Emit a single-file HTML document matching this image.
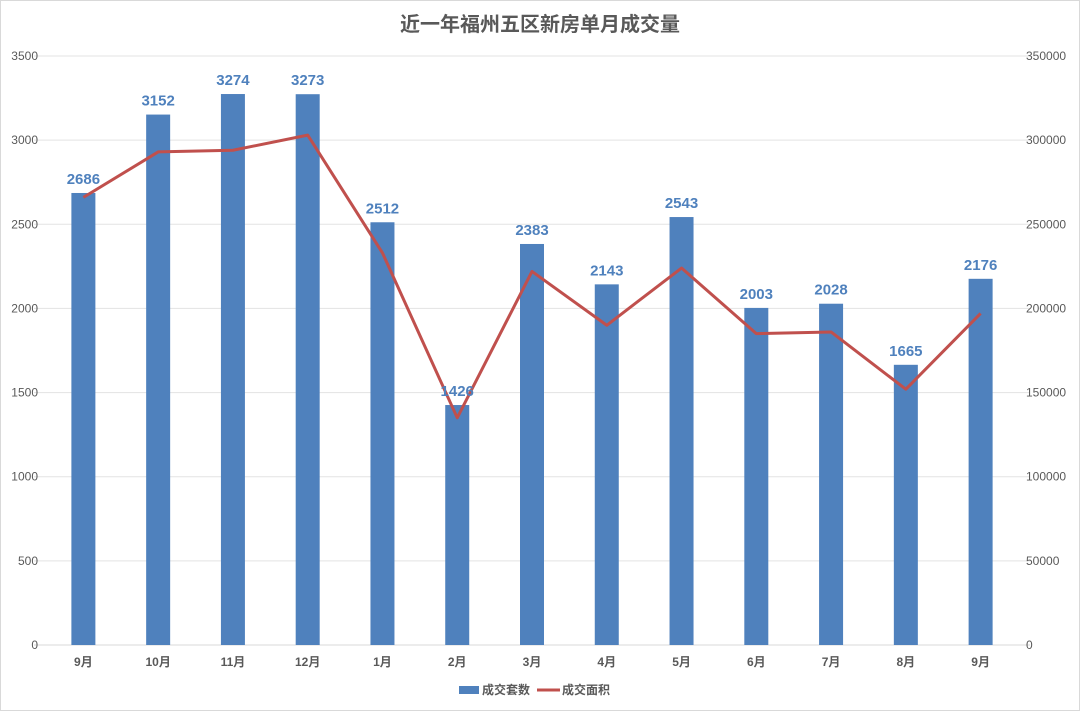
<!DOCTYPE html>
<html><head><meta charset="utf-8"><style>
body{margin:0;background:#fff}
svg{display:block;font-family:"Liberation Sans","Noto Sans CJK SC",sans-serif}
</style></head><body>
<svg id="c" width="1080" height="711">
<rect x="0.5" y="0.5" width="1079" height="710" fill="#fff" stroke="#d9d9d9"/>
<text x="540" y="31" text-anchor="middle" font-size="20" font-weight="bold" fill="#595959">近一年福州五区新房单月成交量</text>
<g id="grid"></g><g id="bars"></g><g id="line"></g><g id="labels"></g>
<g>
<rect x="459" y="686" width="20" height="8" fill="#4f81bd"/>
<text x="482" y="694" font-size="12" font-weight="bold" fill="#595959">成交套数</text>
<line x1="537" y1="690" x2="560" y2="690" stroke="#c0504d" stroke-width="3"/>
<text x="562" y="694" font-size="12" font-weight="bold" fill="#595959">成交面积</text>
</g>
</svg>
<script>
const categories=["9月","10月","11月","12月","1月","2月","3月","4月","5月","6月","7月","8月","9月"];
const counts=[2686,3152,3274,3273,2512,1426,2383,2143,2543,2003,2028,1665,2176];
const areas=[266000,293000,294000,303000,233000,135000,222000,190000,224000,185000,186000,152000,197000];
const leftTicks=[0,500,1000,1500,2000,2500,3000,3500];
const rightTicks=[0,50000,100000,150000,200000,250000,300000,350000];
const NS="http://www.w3.org/2000/svg";
const x0=46,x1=1018,yB=645,yT=56;
const step=(x1-x0)/categories.length;
const xc=i=>x0+step*(i+0.5);
const yL=v=>yB-(v/3500)*(yB-yT);
const yR=v=>yB-(v/350000)*(yB-yT);
function mk(tag,attrs,parent,text){const e=document.createElementNS(NS,tag);for(const k in attrs)e.setAttribute(k,attrs[k]);if(text!=null)e.textContent=text;parent.appendChild(e);return e;}
const g=document.getElementById('grid'),b=document.getElementById('bars'),l=document.getElementById('line'),lb=document.getElementById('labels');
leftTicks.forEach((t,i)=>{
 const ln=mk('line',{x1:34,x2:1030,y1:yL(t),y2:yL(t),stroke:i==0?'#d9d9d9':'#e3e3e3','stroke-width':1},g);
 
 
 const tx=mk('text',{x:38,y:yL(t)+4,'text-anchor':'end','font-size':12,fill:'#595959'},g,t);
 
 
});
rightTicks.forEach(t=>{
 const tx=mk('text',{x:1026,y:yR(t)+4,'font-size':12,fill:'#595959'},g,t);
 
 
});
categories.forEach((c,i)=>{
 const tx=mk('text',{x:xc(i),y:666,'text-anchor':'middle','font-size':12,'font-weight':'bold',fill:'#595959'},g,c);
 
 
});
counts.forEach((v,i)=>{
 const r=mk('rect',{x:xc(i)-12,y:yL(v),width:24,height:yB-yL(v),fill:'#4f81bd'},b);
 
 
 const t=mk('text',{x:xc(i),y:yL(v)-9,'text-anchor':'middle','font-size':15,'font-weight':'bold',fill:'#4f81bd'},lb,v);
 
 
});
const p=mk('polyline',{points:areas.map((v,i)=>xc(i)+','+yR(v)).join(' '),fill:'none',stroke:'#c0504d','stroke-width':3,'stroke-linejoin':'round'},l);


</script>
</body></html>
